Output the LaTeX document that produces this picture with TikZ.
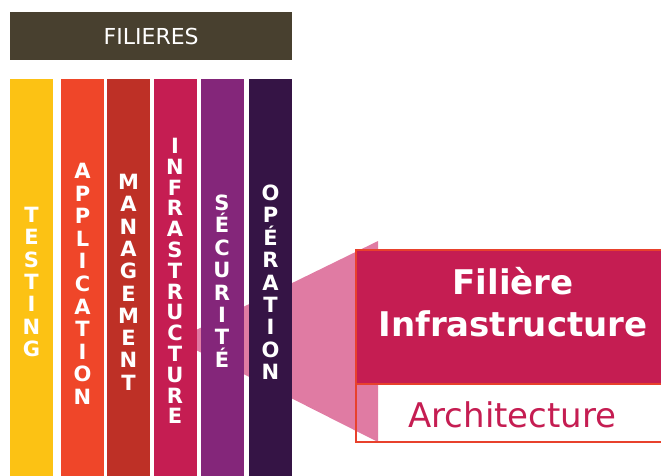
\documentclass[tikz,border=0pt]{standalone}
\usepackage{fontspec}
\setmainfont{DejaVu Sans}
\definecolor{banner}{HTML}{48402F}
\definecolor{cYellow}{HTML}{FCC214}
\definecolor{cOrange}{HTML}{EF4629}
\definecolor{cRed}{HTML}{BE3026}
\definecolor{cCrimson}{HTML}{C51D52}
\definecolor{cPurple}{HTML}{84267A}
\definecolor{cDark}{HTML}{351445}
\definecolor{cFunnel}{HTML}{E07BA3}
\definecolor{cOutline}{HTML}{E8412C}
\begin{document}
\begin{tikzpicture}[x=1pt,y=-1pt,
  bar/.style={anchor=north west,minimum width=43pt,minimum height=400pt,inner sep=0pt,draw=none},
  barletter/.style={anchor=base,inner sep=0pt,text=white,font=\fontsize{21}{21}\selectfont\bfseries},
  ]
\useasboundingbox (0,0) rectangle (661,475);
\clip (0,0) rectangle (661,475);
% banner
\node[fill=banner,anchor=north west,minimum width=282pt,minimum height=48pt,inner sep=0pt] (banner) at (10,12) {};
\node[text=white,font=\fontsize{22}{22}\selectfont] (bannertext) at (banner.center) {FILIERES};
% funnel
\fill[cFunnel] (190,333) -- (378,241) -- (378,442) -- (190,347) -- cycle;
% bars
\node[bar,fill=cYellow] (testing) at (10,79) {};
\node[bar,fill=cOrange] (application) at (61,79) {};
\node[bar,fill=cRed] (management) at (107,79) {};
\node[bar,fill=cCrimson] (infrastructure) at (154,79) {};
\node[bar,fill=cPurple] (securite) at (201,79) {};
\node[bar,fill=cDark] (operation) at (249,79) {};
% letters
\foreach \l [count=\i from 0] in {T,E,S,T,I,N,G}
  \node[barletter] (t\i) at (31.5,{222.5+\i*22.3}) {\l};
\foreach \l [count=\i from 0] in {A,P,P,L,I,C,A,T,I,O,N}
  \node[barletter] (a\i) at (82.5,{178.5+\i*22.6}) {\l};
\foreach \l [count=\i from 0] in {M,A,N,A,G,E,M,E,N,T}
  \node[barletter] (m\i) at (128.5,{189.5+\i*22.3}) {\l};
\foreach \l [count=\i from 0] in {I,N,F,R,A,S,T,R,U,C,T,U,R,E}
  \node[barletter] (i\i) at (175,{153.5+\i*20.8}) {\l};
\foreach \l [count=\i from 0] in {S,É,C,U,R,I,T,É}
  \node[barletter] (s\i) at (222,{210.5+\i*22.4}) {\l};
\foreach \l [count=\i from 0] in {O,P,É,R,A,T,I,O,N}
  \node[barletter] (o\i) at (270.5,{200.5+\i*22.4}) {\l};
% main box
\node[fill=cCrimson,anchor=north west,minimum width=310pt,minimum height=134pt,inner sep=0pt] (filbox) at (356,250) {};
\node[anchor=north west,minimum width=310pt,minimum height=58pt,inner sep=0pt] (archbox) at (356,384) {};
\draw[cOutline,line width=2pt] (filbox.north east) -- (filbox.north west) -- (archbox.south west) -- (archbox.south east);
\draw[cOutline,line width=2pt] (filbox.south west) -- (filbox.south east);
\node[anchor=base,text=white,inner sep=0pt,font=\fontsize{34}{34}\selectfont\bfseries] (t1) at (513,294) {Filière};
\node[anchor=base,text=white,inner sep=0pt,font=\fontsize{34}{34}\selectfont\bfseries] (t2) at (513,336) {Infrastructure};
\node[anchor=base,text=cCrimson,inner sep=0pt,font=\fontsize{34}{34}\selectfont] (t3) at (512.5,427) {Architecture};
\end{tikzpicture}
\end{document}
